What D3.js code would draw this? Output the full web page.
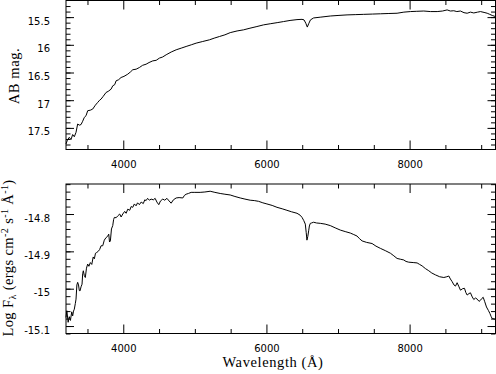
<!DOCTYPE html>
<html>
<head>
<meta charset="utf-8">
<script src="https://cdn.jsdelivr.net/npm/d3@7"></script>
<style>
  html, body { margin: 0; padding: 0; background: #fff; }
  svg { display: block; }
  .tick text { font-family: "DejaVu Sans", sans-serif; font-size: 10px; fill: #000; }
  .tick line { stroke: #000; stroke-width: 1; }
</style>
</head>
<body>
<svg id="chart" width="496" height="374"></svg>
<script>
// upper panel: AB magnitude spectrum
const waveTop = [3200,3220,3246,3270,3293,3316,3340,3363,3386,3410,3433,3456,3480,3503,3540,3573,3610,3643,3670,3690,3720,3760,3790,3830,3853,3880,3900,3935,3969,4010,4063,4100,4133,4180,4225,4270,4319,4360,4412,4460,4505,4550,4599,4670,4739,4810,4878,4950,5018,5110,5204,5270,5344,5420,5494,5590,5680,5770,5867,5960,6053,6150,6240,6330,6427,6497,6525,6550,6571,6590,6615,6659,6760,6892,7000,7126,7240,7359,7480,7592,7700,7825,7920,8011,8100,8198,8290,8385,8460,8524,8570,8617,8660,8710,8760,8804,8850,8897,8950,8990,9040,9084,9120,9154,9200];
const abMag = [17.79,17.72,17.67,17.71,17.62,17.66,17.58,17.43,17.45,17.44,17.38,17.31,17.28,17.19,17.18,17.16,17.09,17.04,17.00,16.98,16.93,16.86,16.84,16.80,16.74,16.72,16.65,16.63,16.59,16.57,16.53,16.49,16.45,16.44,16.41,16.37,16.35,16.32,16.29,16.28,16.24,16.22,16.18,16.13,16.09,16.06,16.03,16.00,15.97,15.94,15.91,15.88,15.85,15.82,15.78,15.75,15.73,15.70,15.67,15.64,15.62,15.60,15.58,15.56,15.545,15.54,15.55,15.61,15.68,15.62,15.55,15.515,15.50,15.48,15.47,15.46,15.455,15.45,15.445,15.44,15.435,15.43,15.41,15.40,15.395,15.39,15.40,15.40,15.39,15.37,15.39,15.385,15.40,15.39,15.42,15.43,15.41,15.425,15.41,15.40,15.415,15.43,15.45,15.47,15.49];

// lower panel: log F_lambda
const waveBot = [3200,3212,3230,3246,3262,3280,3293,3305,3316,3330,3340,3352,3363,3375,3386,3396,3410,3424,3433,3442,3456,3470,3486,3503,3520,3540,3560,3580,3596,3612,3629,3650,3670,3690,3713,3735,3760,3780,3797,3808,3820,3835,3853,3865,3876,3900,3923,3950,3970,3993,4020,4040,4063,4090,4110,4133,4155,4179,4200,4225,4250,4280,4300,4319,4340,4365,4389,4420,4445,4470,4496,4520,4552,4580,4610,4640,4669,4700,4739,4780,4832,4855,4878,4910,4948,5000,5074,5140,5214,5280,5354,5420,5494,5560,5634,5700,5773,5830,5890,5950,6007,6080,6147,6220,6286,6350,6427,6470,6497,6520,6543,6556,6566,6578,6590,6600,6613,6630,6659,6700,6753,6820,6892,6960,7032,7100,7172,7220,7266,7300,7336,7400,7476,7530,7592,7660,7732,7780,7825,7870,7918,7950,7988,8050,8105,8140,8175,8220,8268,8310,8361,8420,8478,8520,8548,8570,8594,8620,8641,8664,8690,8711,8740,8767,8785,8804,8830,8850,8875,8897,8920,8945,8970,8990,9010,9028,9050,9074,9100,9121,9140,9154,9200];
const logFlux = [-15.077,-15.059,-15.09,-15.075,-15.085,-15.062,-15.073,-15.06,-15.055,-15.04,-15.028,-14.99,-14.983,-14.99,-15.005,-15.006,-14.995,-14.988,-14.96,-14.952,-14.965,-14.97,-14.945,-14.934,-14.94,-14.93,-14.935,-14.915,-14.92,-14.905,-14.903,-14.9,-14.895,-14.885,-14.885,-14.87,-14.863,-14.86,-14.854,-14.875,-14.872,-14.84,-14.831,-14.815,-14.809,-14.81,-14.805,-14.8,-14.808,-14.8,-14.793,-14.798,-14.787,-14.79,-14.78,-14.782,-14.773,-14.778,-14.77,-14.775,-14.768,-14.772,-14.762,-14.764,-14.758,-14.763,-14.76,-14.762,-14.758,-14.768,-14.775,-14.765,-14.76,-14.763,-14.758,-14.765,-14.771,-14.762,-14.757,-14.756,-14.757,-14.75,-14.747,-14.745,-14.742,-14.742,-14.742,-14.741,-14.739,-14.742,-14.745,-14.747,-14.749,-14.753,-14.757,-14.76,-14.763,-14.764,-14.766,-14.77,-14.773,-14.777,-14.782,-14.786,-14.79,-14.794,-14.798,-14.803,-14.809,-14.817,-14.827,-14.85,-14.87,-14.86,-14.845,-14.832,-14.825,-14.824,-14.822,-14.824,-14.825,-14.827,-14.831,-14.837,-14.843,-14.847,-14.851,-14.855,-14.859,-14.866,-14.872,-14.876,-14.879,-14.886,-14.892,-14.898,-14.905,-14.912,-14.919,-14.921,-14.923,-14.927,-14.929,-14.93,-14.931,-14.935,-14.939,-14.946,-14.952,-14.958,-14.963,-14.968,-14.97,-14.968,-14.966,-14.974,-14.981,-14.99,-14.993,-14.984,-14.995,-15.004,-15.0,-14.999,-15.01,-15.017,-15.013,-15.011,-15.022,-15.029,-15.025,-15.028,-15.034,-15.031,-15.026,-15.023,-15.035,-15.049,-15.058,-15.066,-15.075,-15.08,-15.082];

// ticks
const xMajor = [4000, 6000, 8000];
const xMajorLabels = ['4000', '6000', '8000'];
const magMajor = [15.5, 16, 16.5, 17, 17.5];
const magLabels = ['15.5', '16', '16.5', '17', '17.5'];
const fluxMajor = [-14.8, -14.9, -15, -15.1];
const fluxLabels = ['-14.8', '-14.9', '-15', '-15.1'];

const serif = '"Liberation Serif", "DejaVu Serif", "Times New Roman", Times, serif';

const svg = d3.select('#chart');

const x = d3.scaleLinear().domain([3200, 9200]).range([66, 495.5]);
const yTop = d3.scaleLinear().domain([15.2, 17.89]).range([0.5, 149.5]);
const yBot = d3.scaleLinear().domain([-14.7196, -15.12]).range([184, 333.5]);

const xMinor = d3.range(3500, 9200, 500).filter(v => v % 2000 !== 0);

function drawPanel(yScale, yMajor, yLabels, yMinor, xs, ys) {
  const [y0, y1] = yScale.range();
  const g = svg.append('g');

  // minor ticks, all four sides
  g.append('g').attr('transform', `translate(0,${y1})`)
    .call(d3.axisBottom(x).tickValues(xMinor).tickSize(-4.5).tickFormat(''));
  g.append('g').attr('transform', `translate(0,${y0})`)
    .call(d3.axisTop(x).tickValues(xMinor).tickSize(-4.5).tickFormat(''));
  g.append('g').attr('transform', `translate(${x.range()[0]},0)`)
    .call(d3.axisLeft(yScale).tickValues(yMinor).tickSize(-4.5).tickFormat(''));
  g.append('g').attr('transform', `translate(${x.range()[1]},0)`)
    .call(d3.axisRight(yScale).tickValues(yMinor).tickSize(-4.5).tickFormat(''));

  // major ticks
  g.append('g').attr('transform', `translate(0,${y1})`)
    .call(d3.axisBottom(x).tickValues(xMajor).tickSize(-9).tickPadding(11.5)
      .tickFormat((d, i) => xMajorLabels[i]));
  g.append('g').attr('transform', `translate(0,${y0})`)
    .call(d3.axisTop(x).tickValues(xMajor).tickSize(-9).tickFormat(''));
  g.append('g').attr('transform', `translate(${x.range()[0]},0)`)
    .call(d3.axisLeft(yScale).tickValues(yMajor).tickSize(-8).tickPadding(16)
      .tickFormat((d, i) => yLabels[i]))
    .selectAll('text').attr('dy', '0.7em');
  g.append('g').attr('transform', `translate(${x.range()[1]},0)`)
    .call(d3.axisRight(yScale).tickValues(yMajor).tickSize(-8).tickFormat(''));

  g.selectAll('.domain').remove();

  // frame
  g.append('rect')
    .attr('x', x.range()[0]).attr('y', y0)
    .attr('width', x.range()[1] - x.range()[0]).attr('height', y1 - y0)
    .attr('fill', 'none').attr('stroke', '#000').attr('stroke-width', 1);

  // spectrum
  const pts = xs.map((w, i) => [w, ys[i]]);
  g.append('path')
    .datum(pts)
    .attr('fill', 'none')
    .attr('stroke', '#000')
    .attr('stroke-width', 1)
    .attr('d', d3.line().x(d => x(d[0])).y(d => yScale(d[1])));
}

drawPanel(yTop, magMajor, magLabels, d3.range(15.3, 17.85, 0.1).map(v => +v.toFixed(2)), waveTop, abMag);
drawPanel(yBot, fluxMajor, fluxLabels, d3.range(-14.72, -15.121, -0.02).map(v => +v.toFixed(2)), waveBot, logFlux);

// axis titles
svg.append('text')
  .attr('transform', 'translate(19,76) rotate(-90)')
  .attr('text-anchor', 'middle')
  .attr('font-family', serif).attr('font-size', 14.5).attr('letter-spacing', 0.6)
  .text('AB mag.');

const ylab = svg.append('text')
  .attr('transform', 'translate(13,258) rotate(-90)')
  .attr('text-anchor', 'middle')
  .attr('font-family', serif).attr('font-size', 14.5).attr('letter-spacing', 0.4);
ylab.append('tspan').text('Log F');
ylab.append('tspan').attr('font-size', 10).attr('dy', 3).text('λ');
ylab.append('tspan').attr('dy', -3).text(' (ergs cm');
ylab.append('tspan').attr('font-size', 10).attr('dy', -5).text('-2');
ylab.append('tspan').attr('dy', 5).text(' s');
ylab.append('tspan').attr('font-size', 10).attr('dy', -5).text('-1');
ylab.append('tspan').attr('dy', 5).text(' Å');
ylab.append('tspan').attr('font-size', 10).attr('dy', -5).text('-1');
ylab.append('tspan').attr('dy', 5).text(')');

svg.append('text')
  .attr('x', 273).attr('y', 367)
  .attr('text-anchor', 'middle')
  .attr('font-family', serif).attr('font-size', 14.5).attr('letter-spacing', 0.6)
  .text('Wavelength (Å)');
</script>
</body>
</html>
